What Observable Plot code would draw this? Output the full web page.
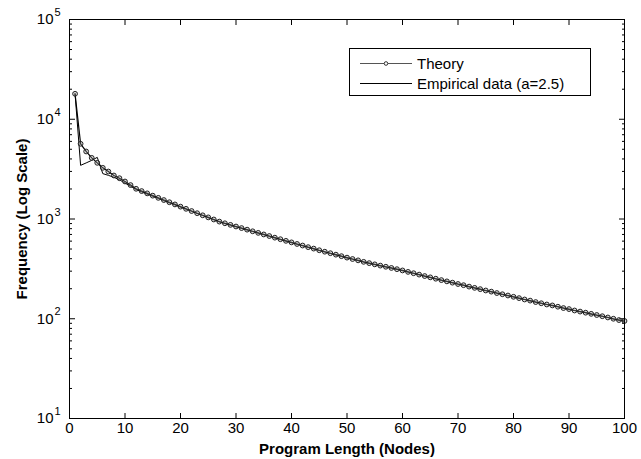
<!DOCTYPE html>
<html>
<head>
<meta charset="utf-8">
<script src="https://cdn.jsdelivr.net/npm/d3@7"></script>
<script src="https://cdn.jsdelivr.net/npm/@observablehq/plot@0.6"></script>
<style>
  html, body { margin: 0; padding: 0; background: #fff; }
  #wrap { position: relative; width: 641px; height: 459px; font-family: "Liberation Sans", Arial, sans-serif; }
  #legend { position: absolute; left: 349px; top: 48px; }
</style>
</head>
<body>
<div id="wrap"></div>
<script>
// Program length (nodes)
const lengths = [1,2,3,4,5,6,7,8,9,10,11,12,13,14,15,16,17,18,19,20,
  21,22,23,24,25,26,27,28,29,30,31,32,33,34,35,36,37,38,39,40,
  41,42,43,44,45,46,47,48,49,50,51,52,53,54,55,56,57,58,59,60,
  61,62,63,64,65,66,67,68,69,70,71,72,73,74,75,76,77,78,79,80,
  81,82,83,84,85,86,87,88,89,90,91,92,93,94,95,96,97,98,99,100];

// Theory frequencies
const theory = [18000,5675,4753,4102,3656,3258,2992,2729,2564,2377,
  2188,2009,1905,1807,1714,1629,1549,1472,1400,1330,
  1265,1202,1143,1089,1038,989,942,906,873,841,
  811,782,753,726,700,675,650,627,604,583,
  562,542,522,505,486,470,454,439,424,410,
  397,385,372,361,351,341,332,323,314,305,
  295,286,277,268,260,252,244,237,230,223,
  217,210,204,198,192,187,181,176,171,166,
  161,156,152,147,143,139,136,132,128,125,
  121,118,115,112,109,106,103,100,97,95];

// Empirical frequencies (a=2.5)
const empirical = [18000,3450,3650,3870,4150,2850,2740,2620,2470,2290,
  2130,1980,1870,1775,1690,1610,1525,1450,1385,1315,
  1255,1195,1135,1082,1030,982,937,898,867,835,
  806,776,749,721,696,670,646,622,600,578,
  558,538,519,501,483,467,451,436,421,407,
  395,383,370,359,349,339,330,321,312,303,
  294,285,276,267,259,251,243,236,229,222,
  216,209,203,197,191,186,181,175,170,166,
  160,156,151,147,143,139,135,132,128,124,
  121,118,115,111,108,106,103,99,97,94];

const xTicks = [0,10,20,30,40,50,60,70,80,90,100];
const yDecades = [10,100,1000,10000,100000];
const yExponents = ["1","2","3","4","5"];
const yMinor = [20,30,40,50,60,70,80,90,200,300,400,500,600,700,800,900,
  2000,3000,4000,5000,6000,7000,8000,9000,20000,30000,40000,50000,60000,70000,80000,90000];

const xLabel = "Program Length (Nodes)";
const yLabel = "Frequency (Log Scale)";
const seriesNames = ["Theory", "Empirical data (a=2.5)"];

const theoryData = lengths.map((n, i) => ({n, v: theory[i]}));
const empData = lengths.map((n, i) => ({n, v: empirical[i]}));
const decadeData = yDecades.map((d, i) => ({d, e: yExponents[i]}));

const font = "Liberation Sans, Arial, sans-serif";
const noText = () => "";

const chart = Plot.plot({
  width: 641,
  height: 459,
  marginLeft: 69,
  marginRight: 17,
  marginTop: 19,
  marginBottom: 41,
  style: {fontFamily: font, fontSize: "15px", background: "#fff", color: "#000"},
  x: {domain: [0, 100], axis: null},
  y: {type: "log", domain: [10, 100000], axis: null},
  marks: [
    // inward ticks
    Plot.axisX({anchor: "bottom", ticks: xTicks, tickSize: -5, tickFormat: noText, label: null, stroke: "#000"}),
    Plot.axisX({anchor: "top", ticks: xTicks, tickSize: -5, tickFormat: noText, label: null, stroke: "#000"}),
    Plot.axisY({anchor: "left", ticks: yDecades, tickSize: -6, tickFormat: noText, label: null, stroke: "#000"}),
    Plot.axisY({anchor: "right", ticks: yDecades, tickSize: -6, tickFormat: noText, label: null, stroke: "#000"}),
    Plot.axisY({anchor: "left", ticks: yMinor, tickSize: -3, tickFormat: noText, label: null, stroke: "#000"}),
    Plot.axisY({anchor: "right", ticks: yMinor, tickSize: -3, tickFormat: noText, label: null, stroke: "#000"}),
    // x tick labels
    Plot.axisX({anchor: "bottom", ticks: xTicks, tickSize: 0, tickPadding: 4, label: null, fontSize: 15, fill: "#000"}),
    // y tick labels: 10 with superscript exponent
    Plot.text(decadeData, {y: "d", frameAnchor: "left", dx: -16, textAnchor: "end", lineAnchor: "middle", text: () => "10", fontSize: 15, fill: "#000"}),
    Plot.text(decadeData, {y: "d", frameAnchor: "left", dx: -15, dy: -7, textAnchor: "start", lineAnchor: "middle", text: "e", fontSize: 11, fill: "#000"}),
    // axis titles
    Plot.text([xLabel], {frameAnchor: "bottom", dy: 31, textAnchor: "middle", lineAnchor: "middle", text: d => d, fontWeight: "bold", fontSize: 15, fill: "#000"}),
    Plot.text([yLabel], {frameAnchor: "left", dx: -47, rotate: -90, textAnchor: "middle", lineAnchor: "middle", text: d => d, fontWeight: "bold", fontSize: 15, fill: "#000"}),
    // data
    Plot.line(empData, {x: "n", y: "v", stroke: "#000", strokeWidth: 1}),
    Plot.line(theoryData, {x: "n", y: "v", stroke: "#000", strokeWidth: 1.2}),
    Plot.dot(theoryData, {x: "n", y: "v", r: 2.4, stroke: "#222", strokeWidth: 1, fill: "#999", fillOpacity: 0.35}),
    Plot.frame({stroke: "#000", strokeWidth: 1})
  ]
});

const wrap = document.getElementById("wrap");
wrap.appendChild(chart);

// Legend (inside the plot area, like the original)
const ns = "http://www.w3.org/2000/svg";
const leg = document.createElementNS(ns, "svg");
leg.setAttribute("id", "legend");
leg.setAttribute("width", 242);
leg.setAttribute("height", 48);
const rect = document.createElementNS(ns, "rect");
rect.setAttribute("x", 0.5); rect.setAttribute("y", 0.5);
rect.setAttribute("width", 241); rect.setAttribute("height", 47);
rect.setAttribute("fill", "#fff"); rect.setAttribute("stroke", "#000");
leg.appendChild(rect);
const rows = [15.5, 35.5];
seriesNames.forEach((name, i) => {
  const ln = document.createElementNS(ns, "line");
  ln.setAttribute("x1", 11); ln.setAttribute("x2", 63);
  ln.setAttribute("y1", rows[i]); ln.setAttribute("y2", rows[i]);
  ln.setAttribute("stroke", i === 0 ? "#555" : "#000");
  ln.setAttribute("stroke-width", 1);
  leg.appendChild(ln);
  if (i === 0) {
    const c = document.createElementNS(ns, "circle");
    c.setAttribute("cx", 37); c.setAttribute("cy", rows[i]); c.setAttribute("r", 1.8);
    c.setAttribute("fill", "#fff"); c.setAttribute("stroke", "#333");
    leg.appendChild(c);
  }
  const t = document.createElementNS(ns, "text");
  t.setAttribute("x", 68); t.setAttribute("y", rows[i]);
  t.setAttribute("dy", "0.35em");
  t.setAttribute("font-family", font);
  t.setAttribute("font-size", 15);
  t.textContent = name;
  leg.appendChild(t);
});
wrap.appendChild(leg);
</script>
</body>
</html>
